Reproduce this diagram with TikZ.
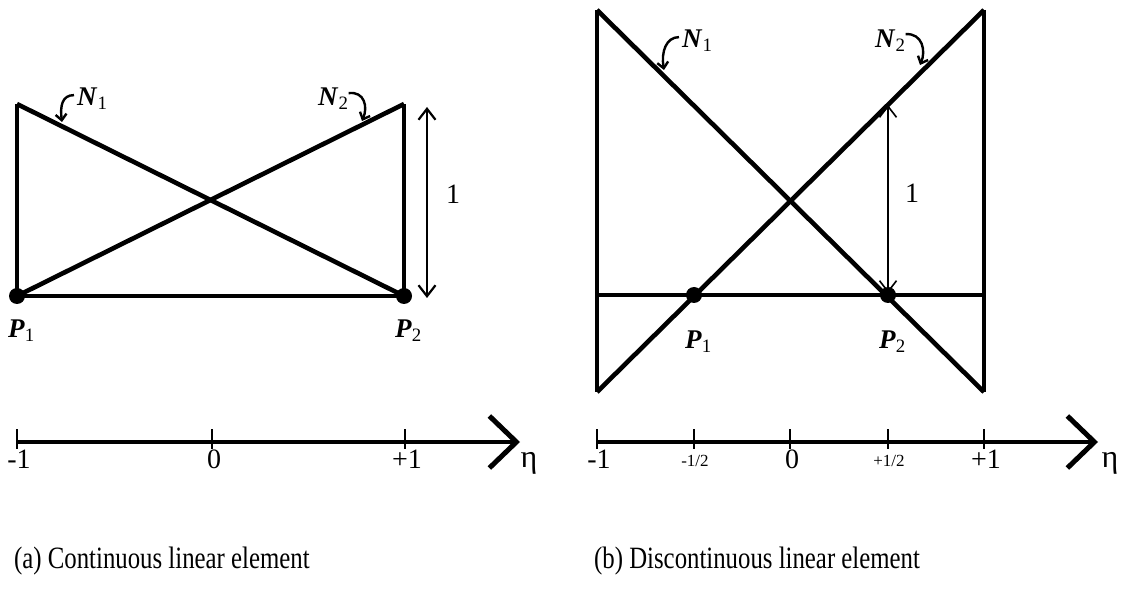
\documentclass[tikz,border=0pt]{standalone}
\usepackage{fontspec}
\setmainfont{Liberation Serif}
\newfontfamily\capfont[FakeStretch=0.8]{Liberation Serif}
\usetikzlibrary{arrows.meta}
\newcommand\lblsub[2]{\textbf{\textit{#1}}\textsubscript{#2}}

\begin{document}
\begin{tikzpicture}[x=1pt,y=-1pt,
  every node/.style={inner sep=0pt,font=\fontsize{27}{30}\selectfont},
  shapefn/.style={line width=4.6pt},
  frame/.style={line width=4pt},
  thinframe/.style={line width=3.2pt},
  dimline/.style={line width=2.2pt,{Straight Barb[length=11pt,width=17pt]}-{Straight Barb[length=11pt,width=17pt]}},
  curl/.style={line width=2.4pt,-{Straight Barb[length=6pt,width=11pt]}},
  dot/.style={circle,fill,minimum size=16pt},
  axis/.style={line width=3.6pt,-{Straight Barb[length=27pt,width=52pt,line width=5pt]}},
  tick/.style={line width=2.8pt},
  ticklbl/.style={anchor=base,font=\fontsize{28}{30}\selectfont},
  smalllbl/.style={anchor=base,font=\fontsize{17}{20}\selectfont},
  caption/.style={anchor=base west,font=\capfont\fontsize{31}{34}\selectfont}]
\useasboundingbox (0,0) rectangle (1127,593);

% (a) continuous element
\coordinate (a1) at (17,104);
\coordinate (a2) at (404,104);
\coordinate (a3) at (17,296);
\coordinate (a4) at (404,296);
\draw[frame] (a1) -- (a3) -- (a4) -- (a2);
\draw[shapefn] (a1) -- (a4);
\draw[shapefn] (a3) -- (a2);
\node[dot] (p1a) at (a3) {};
\node[dot] (p2a) at (a4) {};
\node[anchor=base west] (n1a) at (77,106) {\lblsub{N}{1}};
\node[anchor=base west] (n2a) at (318,106) {\lblsub{N}{2}};
\node[anchor=base west] (lp1a) at (8,338) {\lblsub{P}{1}};
\node[anchor=base west] (lp2a) at (395,338) {\lblsub{P}{2}};
\coordinate (t1a) at (62,122);
\coordinate (t2a) at (362,121);
\draw[curl] ([xshift=-3pt,yshift=4pt]n1a.west) .. controls +(-12,0) and +(-2,-16) .. (t1a);
\draw[curl] ([yshift=6pt]n2a.east) .. controls +(16,-2) and +(6,-14) .. (t2a);
\coordinate (d1t) at (427,107);
\coordinate (d1b) at (427,298);
\draw[dimline] (d1t) -- (d1b);
\node[ticklbl,anchor=center] (h1a) at (453,194) {1};

% axis (a)
\coordinate (xa0) at (17,442);
\coordinate (xa1) at (520,442);
\draw[axis] (xa0) -- (xa1);
\foreach \x/\t in {17/-1,212/0,405/+1} {
  \draw[tick] (\x,429) -- (\x,449);
  \node[ticklbl] (la\x) at (\x+2,468) {\t};
}
\node[ticklbl,font=\fontsize{32}{34}\selectfont] (etaa) at (529,467) {η};

% (b) discontinuous element
\coordinate (b1) at (597,10);
\coordinate (b2) at (984,10);
\coordinate (b3) at (597,392);
\coordinate (b4) at (984,392);
\coordinate (b5) at (597,295);
\coordinate (b6) at (984,295);
\draw[frame] (b1) -- (b3);
\draw[frame] (b2) -- (b4);
\draw[thinframe] (b5) -- (b6);
\draw[shapefn] (b1) -- (b4);
\draw[shapefn] (b3) -- (b2);
\node[dot] (p1b) at (694,295) {};
\node[dot] (p2b) at (888,295) {};
\node[anchor=base west] (n1b) at (682,48) {\lblsub{N}{1}};
\node[anchor=base west] (n2b) at (875,48) {\lblsub{N}{2}};
\node[anchor=base west] (lp1b) at (685,349) {\lblsub{P}{1}};
\node[anchor=base west] (lp2b) at (879,349) {\lblsub{P}{2}};
\coordinate (t1b) at (664,70);
\coordinate (t2b) at (920,65);
\draw[curl] ([xshift=-3pt,yshift=4pt]n1b.west) .. controls +(-13,0) and +(-3,-18) .. (t1b);
\draw[curl] ([yshift=7pt]n2b.east) .. controls +(17,-1) and +(6,-14) .. (t2b);
\coordinate (d2t) at (888,105);
\coordinate (d2b) at (888,293);
\draw[dimline,line width=1.6pt] (d2t) -- (d2b);
\node[ticklbl,anchor=center] (h1b) at (912,193) {1};

% axis (b)
\coordinate (xb0) at (597,442);
\coordinate (xb1) at (1098,442);
\draw[axis] (xb0) -- (xb1);
\foreach \x in {597,694,790,888,984}
  \draw[tick] (\x,429) -- (\x,449);
\node[ticklbl] (lb1) at (599,468) {-1};
\node[smalllbl] (lb2) at (695,466) {-1/2};
\node[ticklbl] (lb3) at (792,468) {0};
\node[smalllbl] (lb4) at (889,466) {+1/2};
\node[ticklbl] (lb5) at (986,468) {+1};
\node[ticklbl,font=\fontsize{32}{34}\selectfont] (etab) at (1110,467) {η};

% captions
\node[caption] (capa) at (14,568) {(a) Continuous linear element};
\node[caption] (capb) at (594,568) {(b) Discontinuous linear element};
\end{tikzpicture}
\end{document}
